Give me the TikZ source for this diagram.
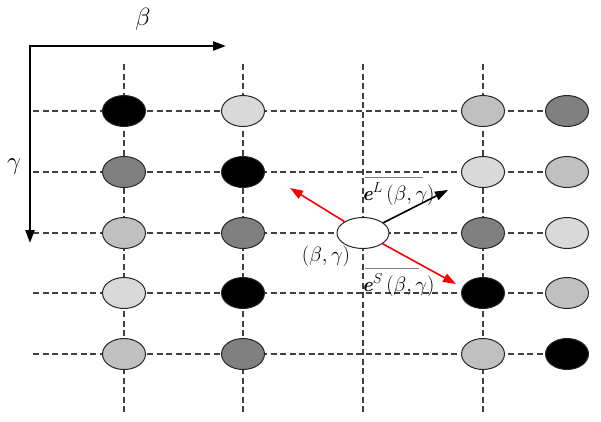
\documentclass[tikz,border=0pt]{standalone}
\usepackage{amsmath,amssymb}
\usepackage{tikz}
\usetikzlibrary{arrows.meta,shapes.geometric,backgrounds}

\definecolor{shadeK}{HTML}{000000}
\definecolor{shadeM}{HTML}{808080}
\definecolor{shadeL}{HTML}{C0C0C0}
\definecolor{shadeP}{HTML}{D9D9D9}

\tikzset{
  cell/.style={ellipse, draw=black!85, line width=1pt, minimum width=43pt, minimum height=31pt, inner sep=0pt},
  gridline/.style={black!75, dash pattern=on 6pt off 3.5pt, line width=1.2pt},
  axis/.style={<->, line width=2.4pt, line join=miter},
  move/.style={->, red, line width=1.6pt},
  bar/.style={black!50, line width=1pt},
  elabel/.style={anchor=west, inner sep=0pt}
}

\begin{document}
\begin{tikzpicture}[x=1pt, y=-1pt, font=\fontsize{20}{22}\selectfont, >={Triangle[length=13pt,width=9pt]}]
  \useasboundingbox (0,0) rectangle (601,421);
  % grid positions
  \foreach \c/\x in {1/124, 2/243, 3/363, 4/483, 5/567}
    \coordinate (col\c) at (\x,64);
  \foreach \r/\y in {1/111, 2/172, 3/233, 4/293, 5/354}
    \coordinate (row\r) at (33,\y);
  \foreach \c in {1,...,4}
    \coordinate (bot\c) at (col\c |- 0,413);

  % cells
  \foreach \c/\r/\shade in {1/1/shadeK, 2/1/shadeP, 4/1/shadeL, 5/1/shadeM,
                            1/2/shadeM, 2/2/shadeK, 4/2/shadeP, 5/2/shadeL,
                            1/3/shadeL, 2/3/shadeM, 4/3/shadeM, 5/3/shadeP,
                            1/4/shadeP, 2/4/shadeK, 4/4/shadeK, 5/4/shadeL,
                            1/5/shadeL, 2/5/shadeM, 4/5/shadeL, 5/5/shadeK}
    \node[cell, fill=\shade] (e\c\r) at (col\c |- row\r) {};
  \node[cell, fill=white, minimum width=52pt] (here) at (col3 |- row3) {};

  % dashed grid behind the cells
  \begin{scope}[on background layer]
    \foreach \r in {1,...,5}
      \draw[gridline] (row\r) -- (e5\r.center);
    \foreach \c in {1,...,4}
      \draw[gridline] (col\c) -- (bot\c);
  \end{scope}

  % axes
  \coordinate (origin) at (30,46);
  \coordinate (betatip) at (226,46);
  \coordinate (gammatip) at (30,243);
  \draw[axis] (betatip) -- (origin) -- (gammatip);
  \node[font=\fontsize{23}{25}\selectfont] (betalabel) at (143,19) {$\beta$};
  \node[font=\fontsize{23}{25}\selectfont] (gammalabel) at (14,167) {$\gamma$};

  % directions at (beta,gamma)
  \coordinate (upleft) at (290,188);
  \coordinate (downright) at (456,284);
  \coordinate (longdir) at (448,190);
  \draw[move] (here) -- (upleft);
  \draw[move] (here) -- (downright);
  \draw[->, line width=1.6pt] (here) -- (longdir);

  \node (herelabel) at (326,256) {$(\beta,\gamma)$};
  \node[elabel] (eL) at (362,194) {\textbf{\textit{e}}$^{L}\,(\beta,\gamma)$};
  \node[elabel] (eS) at (362,285) {\textbf{\textit{e}}$^{S}\,(\beta,\gamma)$};
  \draw[bar] ([xshift=3pt,yshift=5pt]eL.north west) -- ([xshift=-12pt,yshift=5pt]eL.north east);
  \draw[bar] ([xshift=3pt,yshift=5pt]eS.north west) -- ([xshift=-16pt,yshift=5pt]eS.north east);
\end{tikzpicture}
\end{document}
